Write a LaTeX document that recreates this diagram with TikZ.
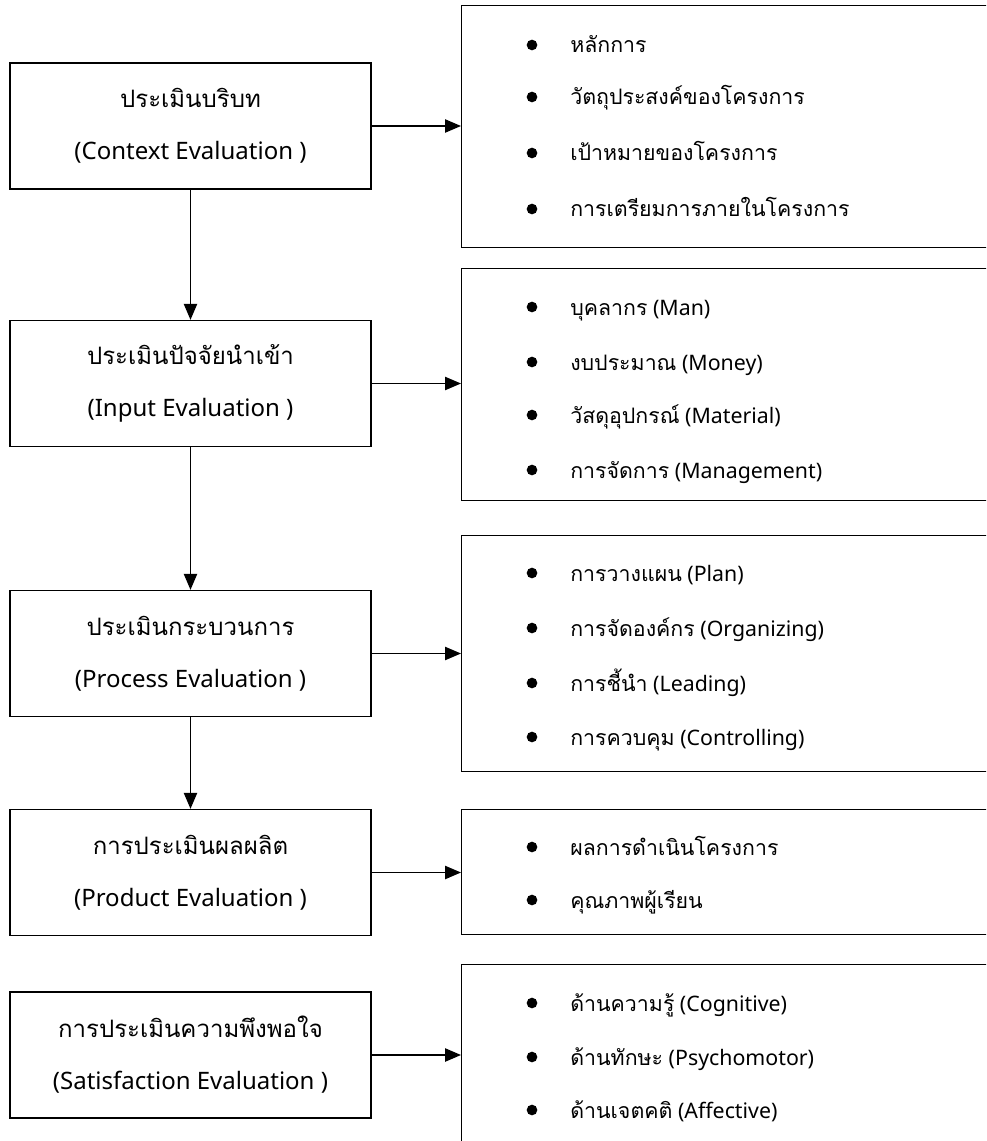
\documentclass[tikz,border=0pt]{standalone}
\usepackage{fontspec}
\setmainfont{Noto Sans}
\newfontfamily\thaifont[Script=Thai]{Loma}
\usetikzlibrary{arrows.meta,positioning}

\newcommand{\thtxt}[1]{{\thaifont #1}}

\tikzset{
    evalbox/.style={draw,line width=1pt,minimum width=270.75pt,minimum height=94.5pt,
        inner sep=0pt,align=center,font=\fontsize{18}{39}\selectfont},
    listbox/.style={draw,line width=1pt,minimum width=412pt,anchor=north west},
    bulletdot/.style={circle,fill,inner sep=0pt,minimum size=8pt},
    itemtxt/.style={anchor=base west,inner sep=0pt,font=\fontsize{16}{18}\selectfont},
    flow/.style={line width=1pt,-{Triangle[length=12pt,width=10pt]}}
}

\begin{document}
\begin{tikzpicture}[x=0.75pt,y=-0.75pt]
        \useasboundingbox (0,0) rectangle (986,1141);
        \clip (0,0) rectangle (986,1141);

        % left column
        \node[evalbox] (ctx) at (190.5,126) {\thtxt{ประเมินบริบท}\\(Context Evaluation )};
        \node[evalbox] (inp) at (190.5,383.5) {\thtxt{ประเมินปัจจัยนำเข้า}\\(Input Evaluation )};
        \node[evalbox] (prc) at (190.5,653.5) {\thtxt{ประเมินกระบวนการ}\\(Process Evaluation )};
        \node[evalbox] (prd) at (190.5,872.5) {\thtxt{การประเมินผลผลิต}\\(Product Evaluation )};
        \node[evalbox] (sat) at (190.5,1055) {\thtxt{การประเมินความพึงพอใจ}\\(Satisfaction Evaluation )};

        % right column
        \node[listbox,minimum height=181.5pt] (ctxlist) at (461,5) {};
        \node[listbox,minimum height=174pt] (inplist) at (461,268) {};
        \node[listbox,minimum height=177pt] (prclist) at (461,535) {};
        \node[listbox,minimum height=93.75pt] (prdlist) at (461,809) {};
        \node[listbox,minimum height=187.5pt] (satlist) at (461,964) {};

        \foreach \y/\t [count=\i] in {45/{\thtxt{หลักการ}},
                97/{\thtxt{วัตถุประสงค์ของโครงการ}},
                153/{\thtxt{เป้าหมายของโครงการ}},
                209/{\thtxt{การเตรียมการภายในโครงการ}}}
            {
                \node[bulletdot] (ctxdot\i) at (532,\y) {};
                \node[itemtxt] (ctxitem\i) at (570,\y+8) {\t};
            }

        \foreach \y/\t [count=\i] in {307/{\thtxt{บุคลากร} (Man)},
                362/{\thtxt{งบประมาณ} (Money)},
                415/{\thtxt{วัสดุอุปกรณ์} (Material)},
                470/{\thtxt{การจัดการ} (Management)}}
            {
                \node[bulletdot] (inpdot\i) at (532,\y) {};
                \node[itemtxt] (inpitem\i) at (570,\y+8) {\t};
            }

        \foreach \y/\t [count=\i] in {573/{\thtxt{การวางแผน} (Plan)},
                628/{\thtxt{การจัดองค์กร} (Organizing)},
                683/{\thtxt{การชี้นำ} (Leading)},
                737/{\thtxt{การควบคุม} (Controlling)}}
            {
                \node[bulletdot] (prcdot\i) at (532,\y) {};
                \node[itemtxt] (prcitem\i) at (570,\y+8) {\t};
            }

        \foreach \y/\t [count=\i] in {847/{\thtxt{ผลการดำเนินโครงการ}},
                900/{\thtxt{คุณภาพผู้เรียน}}}
            {
                \node[bulletdot] (prddot\i) at (532,\y) {};
                \node[itemtxt] (prditem\i) at (570,\y+8) {\t};
            }

        \foreach \y/\t [count=\i] in {1003/{\thtxt{ด้านความรู้} (Cognitive)},
                1057/{\thtxt{ด้านทักษะ} (Psychomotor)},
                1110/{\thtxt{ด้านเจตคติ} (Affective)}}
            {
                \node[bulletdot] (satdot\i) at (532,\y) {};
                \node[itemtxt] (satitem\i) at (570,\y+8) {\t};
            }

        % arrows
        \draw[flow] (ctx) -- (inp);
        \draw[flow] (inp) -- (prc);
        \draw[flow] (prc) -- (prd);

        \draw[flow] (ctx.east) -- (ctx.east -| ctxlist.west);
        \draw[flow] (inp.east) -- (inp.east -| inplist.west);
        \draw[flow] (prc.east) -- (prc.east -| prclist.west);
        \draw[flow] (prd.east) -- (prd.east -| prdlist.west);
        \draw[flow] (sat.east) -- (sat.east -| satlist.west);
    \end{tikzpicture}
\end{document}
